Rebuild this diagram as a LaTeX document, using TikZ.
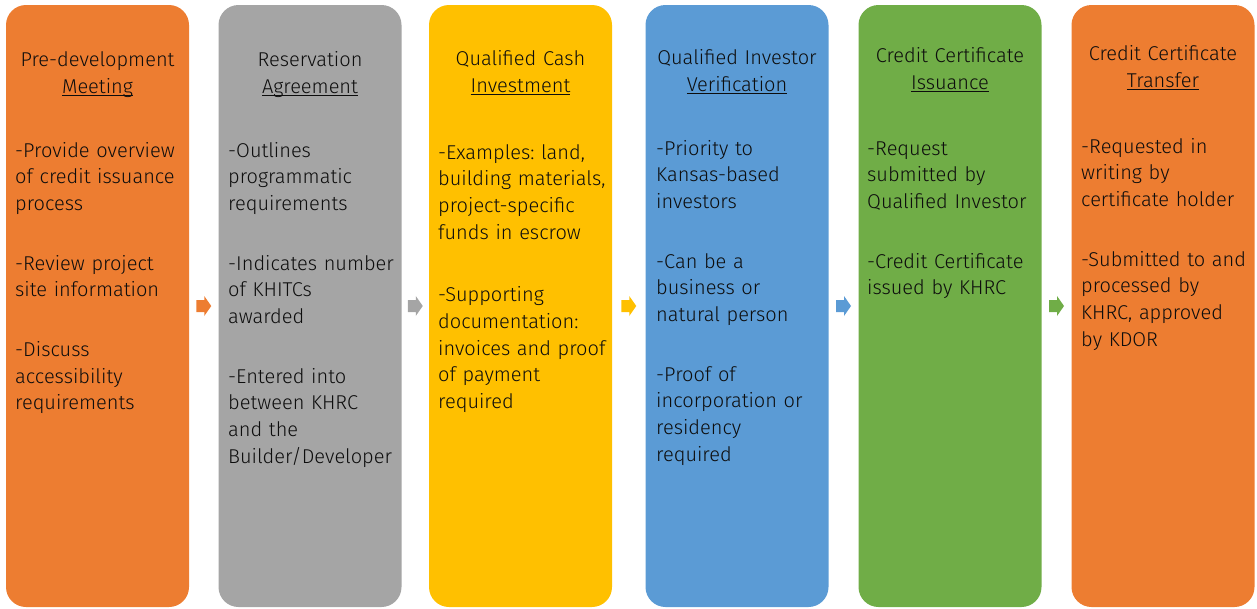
\documentclass[tikz,border=0pt]{standalone}
\usepackage{fontspec}
\setmainfont{Fira Sans Light}
\usetikzlibrary{calc}
\frenchspacing

\definecolor{cOrange}{HTML}{ED7D31}
\definecolor{cGray}{HTML}{A5A5A5}
\definecolor{cYellow}{HTML}{FFC000}
\definecolor{cBlue}{HTML}{5B9BD5}
\definecolor{cGreen}{HTML}{70AD47}
\definecolor{ink}{HTML}{0D0D0D}

% underline that sits just under the baseline, crossed by descenders
\newsavebox\ulbox
\newcommand\uln[1]{\leavevmode\sbox\ulbox{#1}\rlap{\rule[-3.2pt]{\wd\ulbox}{1.2pt}}\usebox\ulbox}

\tikzset{
  stage/.style={rounded corners=20pt, minimum width=183pt, minimum height=602pt,
                inner sep=0pt, draw=none},
  headtext/.style={anchor=base, text width=200pt, align=center, inner sep=0pt,
                   text=ink, font=\fontsize{20}{27}\selectfont},
  bodytext/.style={anchor=base west, text width=185pt, align=left, inner sep=0pt,
                   text=ink, font=\fontsize{20}{26.7}\selectfont},
}

\begin{document}
\begin{tikzpicture}[x=1pt, y=-1pt]
\useasboundingbox (0,0) rectangle (1257,608);

% the six stages
\node[stage, fill=cOrange] (s1) at (97.5,306) {};
\node[stage, fill=cGray]   (s2) at (310,306)  {};
\node[stage, fill=cYellow] (s3) at (520.5,306) {};
\node[stage, fill=cBlue]   (s4) at (737,306)  {};
\node[stage, fill=cGreen]  (s5) at (950,306)  {};
\node[stage, fill=cOrange] (s6) at (1163,306) {};

% small block arrows between the stages
\foreach \a/\b/\c in {s1/s2/cOrange, s2/s3/cGray, s3/s4/cYellow, s4/s5/cBlue, s5/s6/cGreen}
  \fill[\c] ($(\a.east)!0.5!(\b.west)$) ++(-7.5,-6) -- ++(8,0) -- ++(0,-4)
        -- ++(7,10) -- ++(-7,10) -- ++(0,-4) -- ++(-8,0) -- cycle;

% headings
\node[headtext] (h1) at (97.5,66) {Pre-development\\\uln{Meeting}};
\node[headtext] (h2) at (310,66)  {Reservation\\\uln{Agreement}};
\node[headtext] (h3) at (520.5,65) {Qualified Cash\\\uln{Investment}};
\node[headtext] (h4) at (737,64)  {Qualified Investor\\\uln{Verification}};
\node[headtext] (h5) at (950,62)  {Credit Certificate\\\uln{Issuance}};
\node[headtext] (h6) at (1163,60) {Credit Certificate\\\uln{Transfer}};

% descriptions
\node[bodytext] (t1) at (15,157) {-Provide overview\\of credit issuance\\process\\[33pt]
  -Review project\\site information\\[33pt]
  -Discuss\\accessibility\\requirements};
\node[bodytext] (t2) at (228,157) {-Outlines\\programmatic\\requirements\\[33pt]
  -Indicates number\\of KHITCs\\awarded\\[33pt]
  -Entered into\\between KHRC\\and the\\Builder/Developer};
\node[bodytext] (t3) at (438,159) {-Examples: land,\\building materials,\\project-specific\\funds in escrow\\[36pt]
  -Supporting\\documentation:\\invoices and proof\\of payment\\required};
\node[bodytext] (t4) at (656,155) {-Priority to\\Kansas-based\\investors\\[33pt]
  -Can be a\\business or\\natural person\\[33pt]
  -Proof of\\incorporation or\\residency\\required};
\node[bodytext] (t5) at (867,155) {-Request\\submitted by\\Qualified Investor\\[33pt]
  -Credit Certificate\\issued by KHRC};
\node[bodytext] (t6) at (1081,153) {-Requested in\\writing by\\certificate holder\\[33pt]
  -Submitted to and\\processed by\\KHRC, approved\\by KDOR};
\end{tikzpicture}
\end{document}
